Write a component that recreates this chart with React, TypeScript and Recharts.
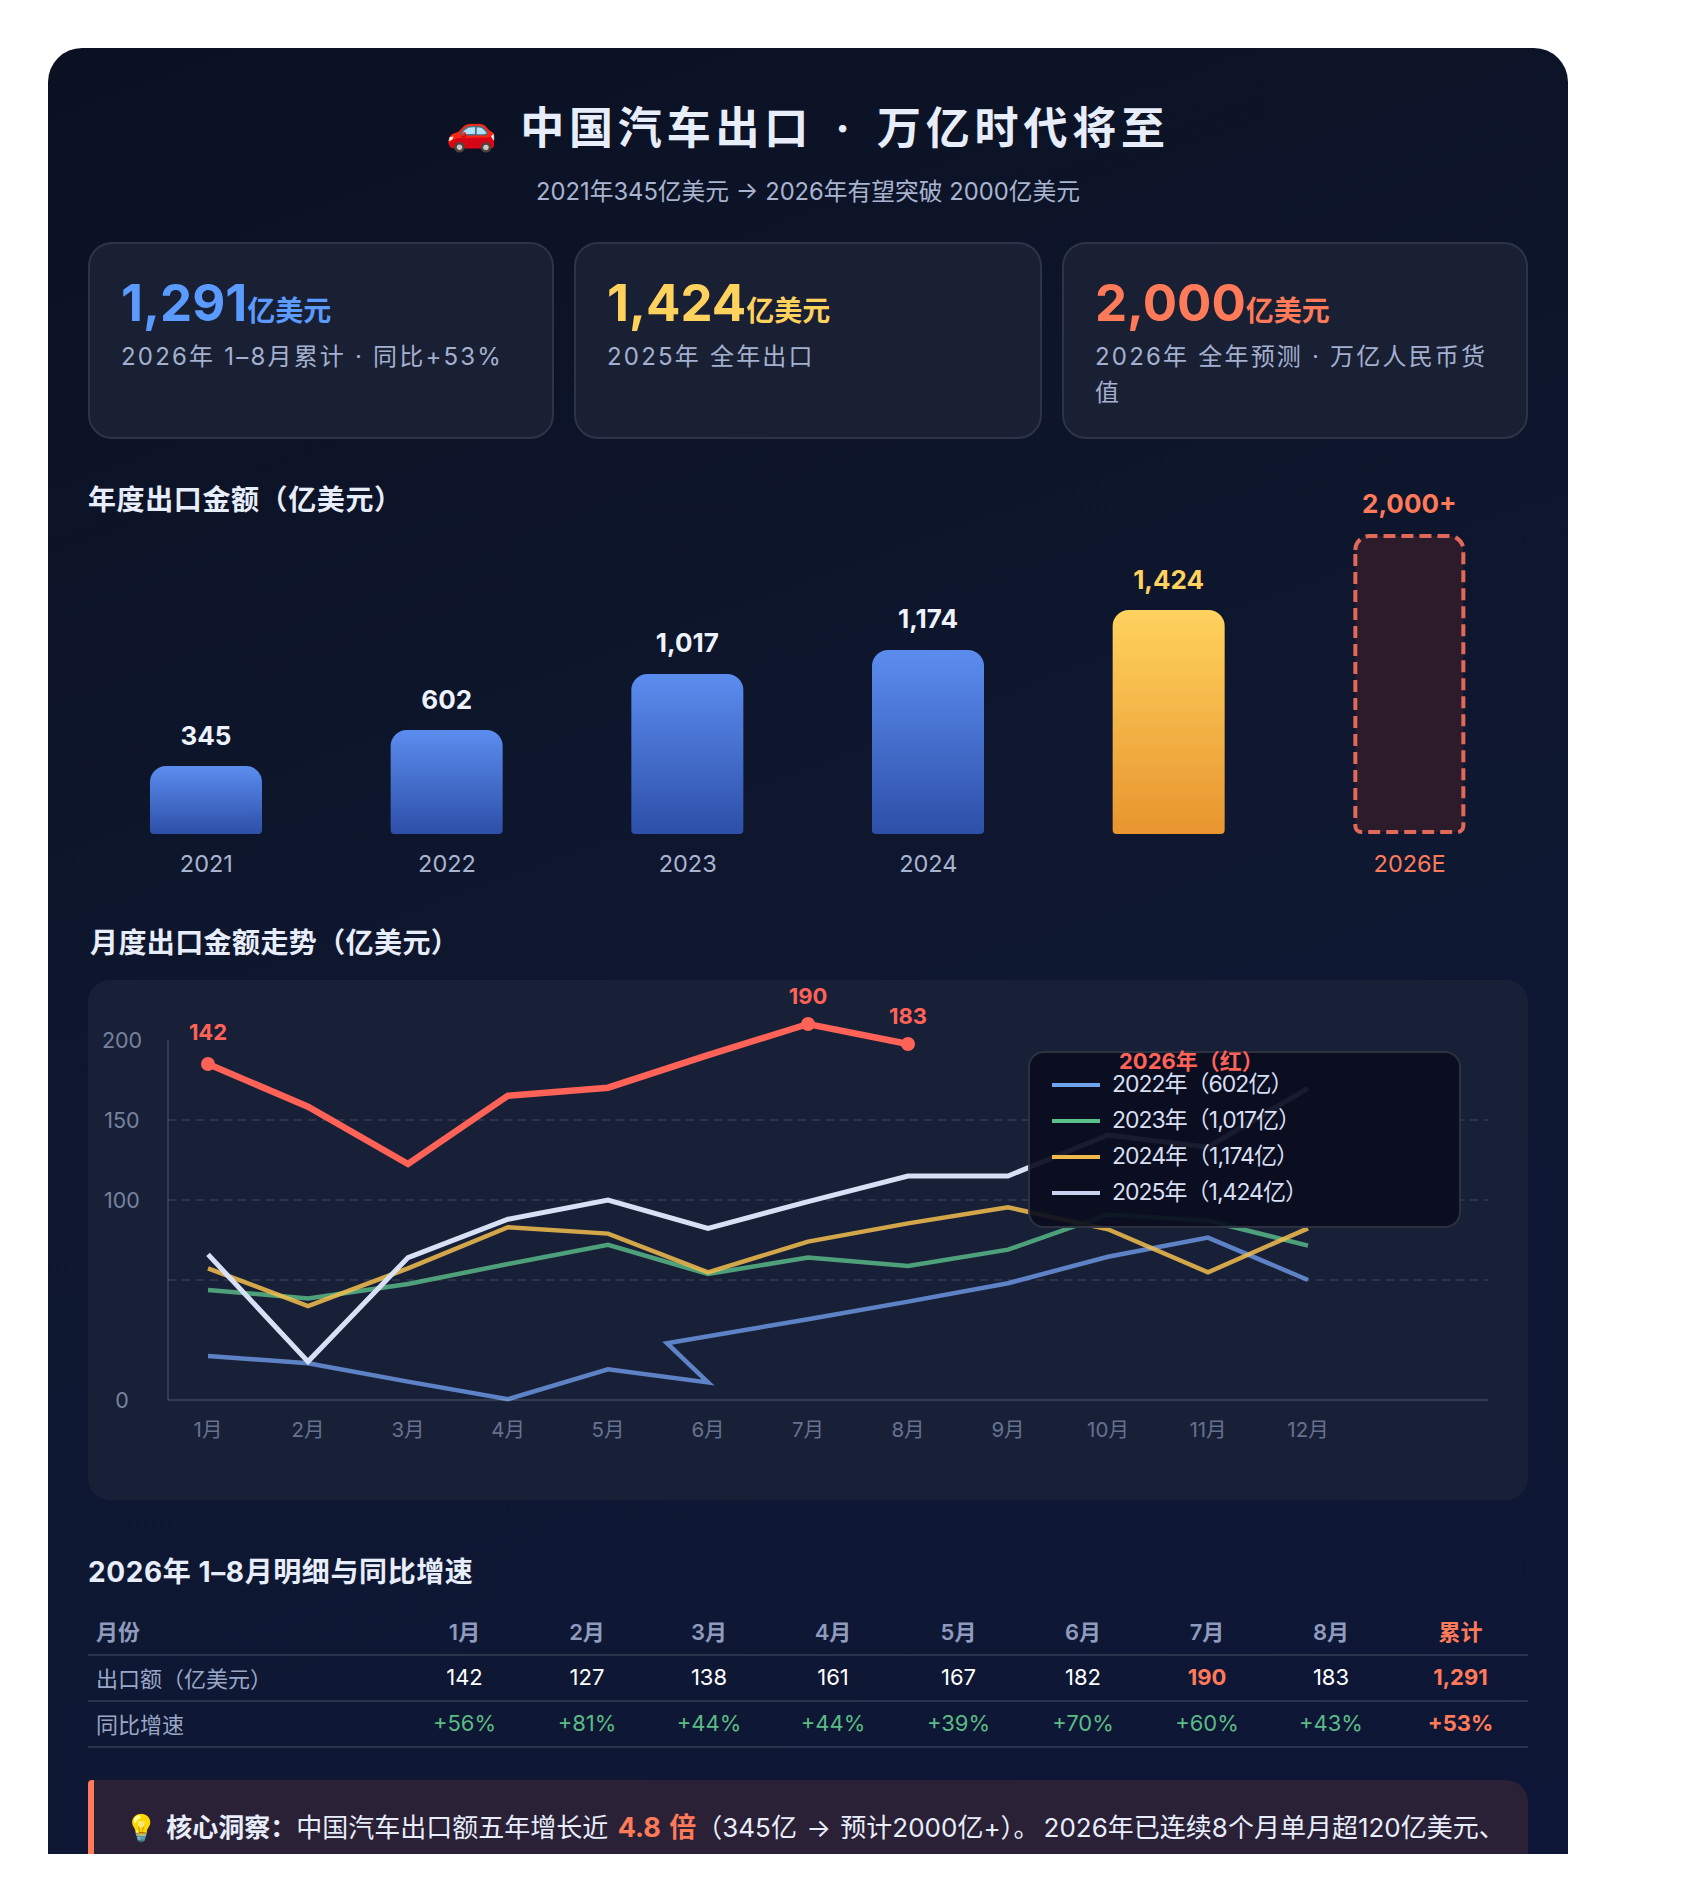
import React from "react";
import { BarChart, Bar, XAxis, YAxis, LineChart, Line, ReferenceLine, Rectangle } from "recharts";

const FONT = 'Inter, "Noto Sans CJK SC", sans-serif';
const CORAL = "#FF7A59";
const RED = "#FF6257";

// Annual bars. The picture's bars are not proportional to their printed labels,
// so barLevels holds the bar tops as read on a scale where the 2026E bar = 2000.
const yearCategories = ["2021", "2022", "2023", "2024", "2025", "2026E"];
const barLevels = [453, 693, 1067, 1227, 1493, 2000];
const barLabels = ["345", "602", "1,017", "1,174", "1,424", "2,000+"];

// Monthly lines (its lowest tick, printed "0", sits at -25 on the 50-unit spacing).
const months = [1, 2, 3, 4, 5, 6, 7, 8, 9, 10, 11, 12];
const months2022 = [1, 2, 3, 4, 5, 6, 5.59, 7, 8, 9, 10, 11, 12];
const values2022 = [2.5, -2, -13.5, -24.5, -5.8, -14, 10.5, 25.5, 36.5, 48, 64.5, 76.5, 50];
const values2023 = [43.75, 38.5, 47.5, 60, 72, 53.75, 64, 58.75, 69, 91, 87, 71.5];
const values2024 = [57.3, 33.75, 57.3, 83, 79, 54.8, 74, 85.4, 95.4, 81.7, 54.8, 82.3];
const values2025 = [66, -1, 64, 88, 100, 82.3, 99, 115, 115, 140.6, 133, 169.8];
const values2026 = [185, 158.3, 122.5, 165.2, 170.2, 190.6, 210, 197.5];
const labels2026 = ["142", "", "", "", "", "", "190", "183"];
const yTicks = [-25, 50, 100, 150, 200];
const yTickText: Record<string, string> = { "-25": "0", "50": "", "100": "100", "150": "150", "200": "200" };

const legendRows = [
  { name: "2022年（602亿）", color: "#6FA3EC" },
  { name: "2023年（1,017亿）", color: "#5CC08A" },
  { name: "2024年（1,174亿）", color: "#F0B94A" },
  { name: "2025年（1,424亿）", color: "#C8D2EE" },
];

const tableHead = ["月份", "1月", "2月", "3月", "4月", "5月", "6月", "7月", "8月", "累计"];
const tableExport = ["出口额（亿美元）", "142", "127", "138", "161", "167", "182", "190", "183", "1,291"];
const tableGrowth = ["同比增速", "+56%", "+81%", "+44%", "+44%", "+39%", "+70%", "+60%", "+43%", "+53%"];
const colWidths = [315, 123, 122, 122, 126, 125, 124, 124, 124, 135];

const stats = [
  { value: "1,291", color: "#5B9BFF", text: "2026年 1–8月累计 · 同比+53%", left: 88, width: 466 },
  { value: "1,424", color: "#FFD25E", text: "2025年 全年出口", left: 574, width: 468 },
  { value: "2,000", color: CORAL, text: "2026年 全年预测 · 万亿人民币货值", left: 1062, width: 466 },
];

const barData = yearCategories.map((year, i) => ({ year, level: barLevels[i], label: barLabels[i] }));
const pts = (xs: number[], ys: number[]) => ys.map((v, i) => ({ m: xs[i], v }));

const abs = (left: number, top: number, extra: React.CSSProperties = {}): React.CSSProperties => ({
  position: "absolute",
  left: left - 48,
  top: top - 48,
  ...extra,
});

function BarShape(p: any) {
  const { x, y, width, height, index } = p;
  if (index === 5) {
    return (
      <Rectangle
        x={x + 2}
        y={y + 2}
        width={width - 4}
        height={height - 4}
        radius={[14, 14, 6, 6]}
        fill="#2C1B2B"
        stroke="#E0695A"
        strokeWidth={4}
        strokeDasharray="12 6"
      />
    );
  }
  return (
    <Rectangle
      x={x}
      y={y}
      width={width}
      height={height}
      radius={[16, 16, 4, 4]}
      fill={index === 4 ? "url(#goldBar)" : "url(#blueBar)"}
    />
  );
}

function barLabel(p: any) {
  const { x, y, width, index } = p;
  const fill = index === 4 ? "#FFD25E" : index === 5 ? CORAL : "#EEF2FC";
  return (
    <text x={x + width / 2} y={y - 31} textAnchor="middle" dominantBaseline="central" fontSize={26} fontWeight={700} fill={fill} fontFamily={FONT}>
      {barLabels[index]}
    </text>
  );
}

function yearTick(p: any) {
  const { x, y, payload } = p;
  if (payload.value === "2025") return <g />;
  const fill = payload.value === "2026E" ? CORAL : "#A9B4D0";
  return (
    <text x={x} y={y + 21} textAnchor="middle" dominantBaseline="central" fontSize={23.5} fill={fill} fontFamily={FONT}>
      {payload.value}
    </text>
  );
}

function monthTick(p: any) {
  const { x, y, payload } = p;
  return (
    <text x={x} y={y + 21} textAnchor="middle" dominantBaseline="central" fontSize={20.5} fill="#66728F" fontFamily={FONT}>
      {payload.value}月
    </text>
  );
}

function valueTick(p: any) {
  const { y, payload } = p;
  return (
    <text x={34} y={y} textAnchor="middle" dominantBaseline="central" fontSize={21.5} fill="#76829F" fontFamily={FONT}>
      {yTickText[String(payload.value)]}
    </text>
  );
}

function redDot(p: any) {
  const { cx, cy, index } = p;
  if (!labels2026[index]) return <g key={index} />;
  return <circle key={index} cx={cx} cy={cy} r={7} fill={RED} />;
}

function redLabel(p: any) {
  const { x, y, index } = p;
  if (!labels2026[index]) return <g key={index} />;
  return (
    <text key={index} x={x} y={y - (index === 0 ? 32 : 28)} textAnchor="middle" dominantBaseline="central" fontSize={22} fontWeight={700} fill={RED} fontFamily={FONT}>
      {labels2026[index]}
    </text>
  );
}

const sectionTitle: React.CSSProperties = {
  fontSize: 28,
  fontWeight: 700,
  lineHeight: "40px",
  letterSpacing: 0.6,
  color: "#E8EDFA",
  whiteSpace: "nowrap",
};

const cellColor = (row: number, col: number) => {
  if (row === 0) return col === 9 ? CORAL : "#8F9BBD";
  if (col === 0) return "#9BA7C7";
  if (row === 1) return col === 7 || col === 9 ? CORAL : "#FFFFFF";
  return col === 9 ? CORAL : "#5DBB85";
};
const cellWeight = (row: number, col: number) => {
  if (row === 0) return 600;
  if (col === 9 || (row === 1 && col === 7)) return 700;
  return 400;
};

export default function App() {
  return (
    <div style={{ position: "absolute", left: 0, top: 0, width: 1696, height: 1902, background: "#fff", fontFamily: FONT, overflow: "hidden" }}>
      <div
        style={{
          position: "absolute",
          left: 48,
          top: 48,
          width: 1520,
          height: 1806,
          borderRadius: "34px 34px 0 0",
          overflow: "hidden",
          background: "linear-gradient(160deg, #0B1122 0%, #0F1831 55%, #0D1636 100%)",
        }}
      >
        <div style={abs(48, 98, { width: 1520, textAlign: "center", fontSize: 44, fontWeight: 700, lineHeight: "60px", letterSpacing: 4.8, color: "#E8EDFA", whiteSpace: "nowrap" })}>
          <span style={{ fontSize: 41, marginRight: 3 }}>🚗</span> 中国汽车出口<span style={{ padding: "0 7px" }}> · </span>万亿时代将至
        </div>
        <div style={abs(48, 174, { width: 1520, textAlign: "center", fontSize: 23.75, lineHeight: "36px", color: "#A9B4D0", whiteSpace: "nowrap" })}>
          2021年345亿美元 → 2026年有望突破 2000亿美元
        </div>

        {stats.map((s) => (
          <div
            key={s.value}
            style={abs(s.left, 242, {
              width: s.width,
              height: 197,
              boxSizing: "border-box",
              borderRadius: 24,
              border: "2px solid rgba(255,255,255,0.09)",
              background: "#1A2034",
              padding: "28px 28px 0 31px",
            })}
          >
            <div style={{ lineHeight: "62px", whiteSpace: "nowrap", color: s.color, fontWeight: 700 }}>
              <span style={{ fontSize: 51 }}>{s.value}</span>
              <span style={{ fontSize: 28 }}>亿美元</span>
            </div>
            <div style={{ fontSize: 24, lineHeight: "36px", letterSpacing: 2.2, color: "#A3B0CF", marginTop: -7 }}>{s.text}</div>
          </div>
        ))}

        <div style={abs(88, 480, sectionTitle)}>年度出口金额（亿美元）</div>
        <div style={abs(86, 474)}>
          <BarChart width={1444} height={420} data={barData} margin={{ top: 60, right: 0, bottom: 0, left: 0 }}>
            <defs>
              <linearGradient id="blueBar" x1="0" y1="0" x2="0" y2="1">
                <stop offset="0%" stopColor="#5B8DEF" />
                <stop offset="100%" stopColor="#2D4FA8" />
              </linearGradient>
              <linearGradient id="goldBar" x1="0" y1="0" x2="0" y2="1">
                <stop offset="0%" stopColor="#FFD25E" />
                <stop offset="100%" stopColor="#E8952E" />
              </linearGradient>
            </defs>
            <XAxis dataKey="year" height={60} axisLine={false} tickLine={false} interval={0} tick={yearTick} />
            <YAxis hide domain={[0, 2000]} />
            <Bar dataKey="level" barSize={112} isAnimationActive={false} shape={BarShape} label={barLabel} />
          </BarChart>
        </div>

        <div style={abs(90, 923, { ...sectionTitle, letterSpacing: 0.4 })}>月度出口金额走势（亿美元）</div>
        <div style={abs(88, 980, { width: 1440, height: 520, borderRadius: 22, background: "#182037" })}>
          <LineChart width={1440} height={520} margin={{ top: 28, right: 40, bottom: 0, left: 0 }}>
            <XAxis
              type="number"
              dataKey="m"
              domain={[0.6, 13.8]}
              ticks={months}
              interval={0}
              height={100}
              tickLine={false}
              axisLine={{ stroke: "rgba(255,255,255,0.12)", strokeWidth: 2 }}
              tick={monthTick}
            />
            <YAxis type="number" domain={[-25, 220]} ticks={yTicks} interval={0} width={80} axisLine={false} tickLine={false} tick={valueTick} />
            {[150, 100, 50].map((v) => (
              <ReferenceLine key={v} y={v} stroke="rgba(255,255,255,0.09)" strokeWidth={2} strokeDasharray="8 6" />
            ))}
            <ReferenceLine
              segment={[
                { x: 0.6, y: -25 },
                { x: 0.6, y: 200 },
              ]}
              stroke="rgba(255,255,255,0.12)"
              strokeWidth={2}
            />
            <Line data={pts(months2022, values2022)} dataKey="v" stroke="#6F9BE8" strokeOpacity={0.8} strokeWidth={4.5} dot={false} isAnimationActive={false} />
            <Line data={pts(months, values2023)} dataKey="v" stroke="#5BC08A" strokeOpacity={0.8} strokeWidth={4.5} dot={false} isAnimationActive={false} />
            <Line data={pts(months, values2024)} dataKey="v" stroke="#F5BE4E" strokeOpacity={0.85} strokeWidth={4.5} dot={false} isAnimationActive={false} />
            <Line data={pts(months, values2025)} dataKey="v" stroke="#D8E0F6" strokeWidth={5} dot={false} isAnimationActive={false} />
            <Line data={pts(months, values2026)} dataKey="v" stroke={RED} strokeWidth={6.5} dot={redDot} label={redLabel} isAnimationActive={false} />
          </LineChart>
          <div
            style={{
              position: "absolute",
              left: 940,
              top: 71,
              width: 433,
              height: 177,
              boxSizing: "border-box",
              borderRadius: 16,
              border: "2px solid rgba(255,255,255,0.14)",
              background: "rgba(10,13,30,0.93)",
            }}
          >
            <div style={{ position: "absolute", left: 89, top: -7, fontSize: 22, lineHeight: "30px", fontWeight: 700, color: RED, whiteSpace: "nowrap" }}>2026年（红）</div>
            {legendRows.map((r, i) => (
              <div key={r.name} style={{ position: "absolute", left: 0, top: 14 + i * 36, height: 34, width: 430 }}>
                <div style={{ position: "absolute", left: 22, top: 16, width: 48, height: 4, background: r.color }} />
                <div style={{ position: "absolute", left: 82, top: 0, fontSize: 23, lineHeight: "34px", letterSpacing: -1, color: "#D8DFF2", whiteSpace: "nowrap" }}>{r.name}</div>
              </div>
            ))}
          </div>
        </div>

        <div style={abs(88, 1552, sectionTitle)}>2026年 1–8月明细与同比增速</div>
        <table style={abs(88, 1609, { width: 1440, tableLayout: "fixed", borderCollapse: "collapse" })}>
          <colgroup>
            {colWidths.map((w, i) => (
              <col key={i} style={{ width: w }} />
            ))}
          </colgroup>
          <tbody>
            {[tableHead, tableExport, tableGrowth].map((row, r) => (
              <tr key={r} style={{ height: 46, borderBottom: "2px solid rgba(255,255,255,0.12)" }}>
                {row.map((cell, c) => (
                  <td
                    key={c}
                    style={{
                      padding: c === 0 ? `0 0 ${r === 0 ? 4 : 2}px 8px` : `0 0 ${r === 0 ? 4 : 2}px 0`,
                      textAlign: c === 0 ? "left" : "center",
                      fontSize: 22,
                      color: cellColor(r, c),
                      fontWeight: cellWeight(r, c),
                      whiteSpace: "nowrap",
                    }}
                  >
                    {cell}
                  </td>
                ))}
              </tr>
            ))}
          </tbody>
        </table>

        <div
          style={abs(88, 1780, {
            width: 1440,
            height: 120,
            boxSizing: "border-box",
            borderLeft: `6px solid ${CORAL}`,
            borderRadius: "4px 22px 0 0",
            background: "#2A2136",
            padding: "29px 0 0 31px",
            fontSize: 26,
            lineHeight: "38px",
            color: "#E8EDFA",
            whiteSpace: "nowrap",
            wordSpacing: 2,
          })}
        >
          💡 <b>核心洞察：</b>中国汽车出口额五年增长近 <b style={{ color: CORAL, fontSize: 27 }}>4.8 倍</b>（345亿 → 预计2000亿+）<span style={{ marginRight: 4 }}>。</span>2026年已连续8个月单月超120亿美元、
        </div>
      </div>
    </div>
  );
}
